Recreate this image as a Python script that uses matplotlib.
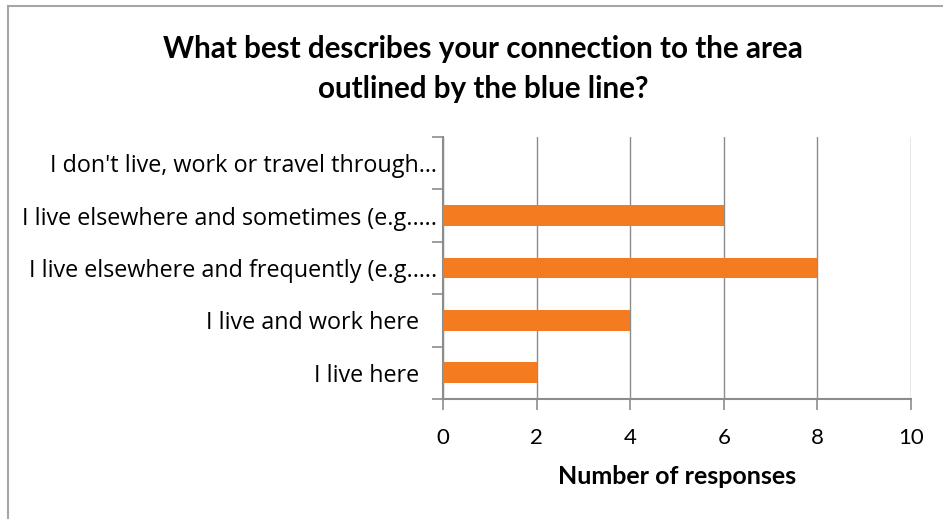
import numpy as np
import matplotlib
matplotlib.use("Agg")
import matplotlib.pyplot as plt
from matplotlib.lines import Line2D

# survey answers, bottom to top as drawn
categories = [
    "I live here   ",
    "I live and work here   ",
    "I live elsewhere and frequently (e.g.\u2026.",
    "I live elsewhere and sometimes (e.g.\u2026.",
    "I don't live, work or travel through\u2026",
]
responses = [2, 4, 8, 6, 0]
xticks = [0, 2, 4, 6, 8, 10]

title = "What best describes your connection to the area\noutlined by the blue line?"
xlabel = "Number of responses"

bar_color = "#f47b20"
grey = "#8c8c8c"

fig = plt.figure(figsize=(9.43, 5.19), dpi=100)
ax = fig.add_axes([443 / 943, 1 - 399 / 519, 468 / 943, 262 / 519])

y = np.arange(len(categories))
ax.barh(y, responses, height=0.4, color=bar_color, zorder=3)

ax.set_xlim(0, 10)
ax.set_ylim(-0.5, len(categories) - 0.5)

# vertical gridlines
ax.set_xticks(xticks)
ax.set_xticklabels([str(t) for t in xticks], family="Lato", fontsize=16)
ax.grid(axis="x", color=grey, linewidth=1.0, zorder=0)
ax.tick_params(axis="x", length=8, width=1.2, color=grey, pad=13)

# category labels centred, tick marks on the band edges
ax.set_yticks(y)
ax.set_yticklabels(categories, family="Open Sans", fontsize=16.8)
ax.set_yticks(np.arange(-0.5, len(categories)), minor=True)
ax.tick_params(axis="y", which="major", length=0, pad=4)
ax.tick_params(axis="y", which="minor", length=8, width=1.2, color=grey)

for side in ["top", "right"]:
    ax.spines[side].set_visible(False)
for side in ["left", "bottom"]:
    ax.spines[side].set_color(grey)
    ax.spines[side].set_linewidth(1.5)

ax.set_xlabel(xlabel, family="Lato", fontweight="bold", fontsize=18, labelpad=12)

fig.text(483 / 943, 1 - 69 / 519, title, ha="center", va="center", family="Lato",
         fontweight="bold", fontsize=21.3, linespacing=1.5)

# outer chart frame
fig.add_artist(Line2D([8 / 943, 8 / 943], [0, 1 - 6 / 519], transform=fig.transFigure,
                      color="#a6a6a6", linewidth=1.5))
fig.add_artist(Line2D([8 / 943, 1], [1 - 6 / 519, 1 - 6 / 519], transform=fig.transFigure,
                      color="#a6a6a6", linewidth=1.5))

fig.savefig("out.png", dpi=100)
